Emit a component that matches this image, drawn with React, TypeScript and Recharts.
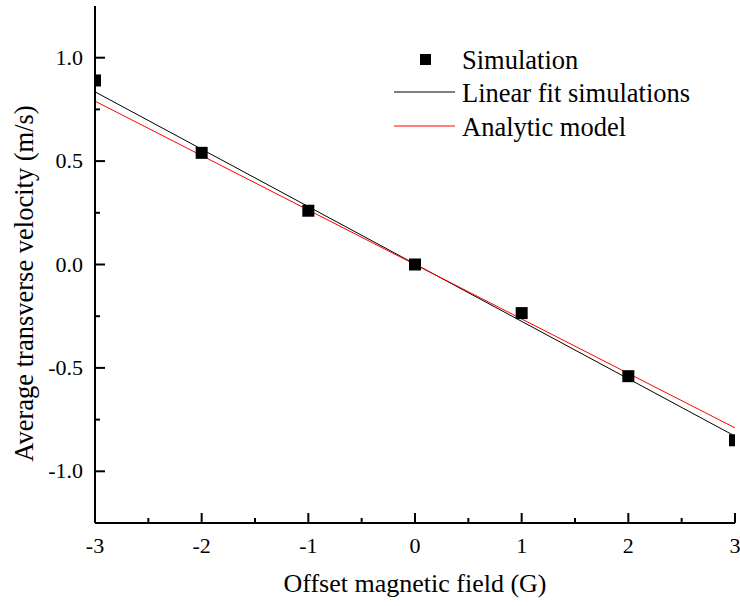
import React from "react";
import { ComposedChart, Line, Scatter, XAxis, YAxis, Legend } from "recharts";

const FONT = '"Liberation Serif", "Times New Roman", serif';

// simulation points
const fieldValues = [-3, -2, -1, 0, 1, 2, 3];
const simulationVelocity = [0.89, 0.54, 0.26, 0.0, -0.235, -0.54, -0.85];

// straight lines, read at both ends of the axis
const lineEnds = [-3, 3];
const linearFitVelocity = [0.835, -0.83];
const analyticVelocity = [0.79, -0.79];

const xTicks = [-3, -2.5, -2, -1.5, -1, -0.5, 0, 0.5, 1, 1.5, 2, 2.5, 3];
const yTicks = [-1, -0.75, -0.5, -0.25, 0, 0.25, 0.5, 0.75, 1];

const simulationData = fieldValues.map((x, i) => ({ x, v: simulationVelocity[i] }));
const fitData = lineEnds.map((x, i) => ({ x, v: linearFitVelocity[i] }));
const analyticData = lineEnds.map((x, i) => ({ x, v: analyticVelocity[i] }));

const isMajorX = (v: number) => Number.isInteger(v);
const isMajorY = (v: number) => Math.abs(v * 2 - Math.round(v * 2)) < 1e-9;

const textStyle = (size: number) => ({ fontFamily: FONT, fontSize: size, fill: "#000" });

const BottomTick = ({ x, y, payload }: any) => {
  const major = isMajorX(payload.value);
  return (
    <g>
      <line x1={x} y1={y} x2={x} y2={y - (major ? 10 : 5)} stroke="#000" strokeWidth={2} />
      {major && (
        <text x={x} y={y + 30} textAnchor="middle" fontFamily="Liberation Serif" style={textStyle(22)}>
          {payload.value}
        </text>
      )}
    </g>
  );
};

const TopTick = ({ x, y, payload }: any) => (
  <line x1={x} y1={y} x2={x} y2={y + (isMajorX(payload.value) ? 10 : 5)} stroke="#000" strokeWidth={2} />
);

const LeftTick = ({ x, y, payload }: any) => {
  const major = isMajorY(payload.value);
  return (
    <g>
      <line x1={x} y1={y} x2={x + (major ? 10 : 5)} y2={y} stroke="#000" strokeWidth={2} />
      {major && (
        <text x={x - 12} y={y + 7} textAnchor="end" fontFamily="Liberation Serif" style={textStyle(22)}>
          {payload.value.toFixed(1)}
        </text>
      )}
    </g>
  );
};

const RightTick = ({ x, y, payload }: any) => (
  <line x1={x} y1={y} x2={x - (isMajorY(payload.value) ? 10 : 5)} y2={y} stroke="#000" strokeWidth={2} />
);

const SquareDot = ({ cx, cy }: any) => <rect x={cx - 6} y={cy - 6} width={12} height={12} fill="#000" />;

const YTitle = ({ viewBox }: any) => {
  const cy = viewBox.y + viewBox.height / 2 + 19;
  return (
    <text
      x={24}
      y={cy}
      transform={`rotate(-90, 24, ${cy})`}
      textAnchor="middle"
      dominantBaseline="central"
      style={textStyle(26.5)}
    >
      Average transverse velocity (m/s)
    </text>
  );
};

const XTitle = ({ viewBox }: any) => (
  <text x={viewBox.x + viewBox.width / 2} y={583} textAnchor="middle" dominantBaseline="central" style={textStyle(26)}>
    Offset magnetic field (G)
  </text>
);

const LegendBox = () => (
  <svg width={340} height={110} style={{ display: "block" }}>
    <rect x={30} y={13} width={11} height={11} fill="#000" />
    <text x={72} y={19} dominantBaseline="central" style={textStyle(26.5)}>Simulation</text>
    <line x1={4} y1={51} x2={65} y2={51} stroke="#000" strokeWidth={1} />
    <text x={72} y={52} dominantBaseline="central" style={textStyle(26.5)}>Linear fit simulations</text>
    <line x1={4} y1={85} x2={65} y2={85} stroke="#ff0000" strokeWidth={1} />
    <text x={72} y={86} dominantBaseline="central" style={textStyle(26.5)}>Analytic model</text>
  </svg>
);

export default function App() {
  return (
    <div style={{ position: "absolute", left: 0, top: 0, width: 740, height: 606, background: "#fff" }}>
      <ComposedChart width={740} height={606} margin={{ top: 6, right: 5, bottom: 0, left: 0 }}>
        <XAxis
          dataKey="x"
          type="number"
          domain={[-3, 3]}
          ticks={xTicks}
          interval={0}
          allowDataOverflow
          height={83}
          tickSize={0}
          tickMargin={0}
          tick={<BottomTick />}
          stroke="#000"
          axisLine={{ stroke: "#000", strokeWidth: 2 }}
          label={<XTitle />}
        />
        <XAxis
          xAxisId="top"
          orientation="top"
          type="number"
          domain={[-3, 3]}
          ticks={xTicks}
          interval={0}
          allowDataOverflow
          height={0}
          tickSize={0}
          tickMargin={0}
          tick={<TopTick />}
          stroke="#000"
          axisLine={{ stroke: "#000", strokeWidth: 2 }}
        />
        <YAxis
          type="number"
          domain={[-1.25, 1.25]}
          ticks={yTicks}
          interval={0}
          allowDataOverflow
          width={95}
          tickSize={0}
          tickMargin={0}
          tick={<LeftTick />}
          stroke="#000"
          axisLine={{ stroke: "#000", strokeWidth: 2 }}
          label={<YTitle />}
        />
        <YAxis
          yAxisId="right"
          orientation="right"
          type="number"
          domain={[-1.25, 1.25]}
          ticks={yTicks}
          interval={0}
          allowDataOverflow
          width={0}
          tickSize={0}
          tickMargin={0}
          tick={<RightTick />}
          stroke="#000"
          axisLine={{ stroke: "#000", strokeWidth: 2 }}
        />
        <Legend
          layout="vertical"
          align="center"
          verticalAlign="middle"
          content={<LegendBox />}
          wrapperStyle={{ left: 390, top: 41, width: 340, height: 110 }}
        />
        <Line data={fitData} dataKey="v" type="linear" stroke="#000" strokeWidth={1} dot={false} isAnimationActive={false} />
        <Line data={analyticData} dataKey="v" type="linear" stroke="#ff0000" strokeWidth={1} dot={false} isAnimationActive={false} />
        <Scatter data={simulationData} dataKey="v" shape={<SquareDot />} isAnimationActive={false} />
      </ComposedChart>
    </div>
  );
}
